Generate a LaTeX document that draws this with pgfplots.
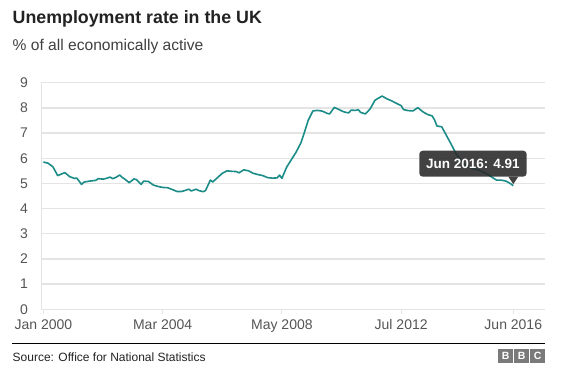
\documentclass[border=0pt]{standalone}
\usepackage{fontspec}
\setmainfont{Liberation Sans}
\usepackage{pgfplots}
\pgfplotsset{compat=1.18}
\definecolor{teal1}{RGB}{27,140,136}
\definecolor{gridc}{RGB}{228,228,228}
\definecolor{tickc}{RGB}{85,85,85}
\definecolor{titlec}{RGB}{34,34,34}
\definecolor{subc}{RGB}{64,64,64}
\definecolor{tipc}{RGB}{40,40,40}
\definecolor{bbcc}{RGB}{122,122,122}
\begin{document}
\begin{tikzpicture}[x=1bp,y=1bp]
\useasboundingbox (0,0) rectangle (586,373);
\node[anchor=base west, inner sep=0pt, text=titlec] at (12.5,349.7) {\fontsize{17.8bp}{20bp}\selectfont\bfseries Unemployment rate in the UK};
\node[anchor=base west, inner sep=0pt, text=subc] at (12.5,323) {\fontsize{15.6bp}{18bp}\selectfont \% of all economically active};
\begin{axis}[
  at={(41bp,63.7bp)}, anchor=south west,
  scale only axis, width=504bp, height=226.6bp,
  xmin=-1, xmax=210.3, ymin=0, ymax=9,
  ytick={0,1,2,3,4,5,6,7,8,9},
  xtick={0,50,100,150,197},
  xticklabels={Jan 2000,Mar 2004,May 2008,Jul 2012,Jun 2016},
  ymajorgrids, grid style={gridc, line width=1.3bp},
  axis x line*=bottom, axis y line*=left,
  axis line style={gridc, line width=1bp},
  x axis line style={-}, y axis line style={-, line width=0.6bp},
  tick align=outside,
  xtick style={gridc, line width=1bp},
  major tick length=5bp,
  ytick style={draw=none},
  /pgf/number format/assume math mode=true,
  ticklabel style={font=\fontsize{14bp}{16bp}\selectfont, text=tickc},
  yticklabel style={inner sep=0pt, xshift=-8bp},
  xticklabel style={inner sep=0pt, yshift=-5bp},
  clip=false,
]
\addplot[teal1, line width=1.6bp, line join=round] coordinates {
(0,5.85)(2,5.80)(4,5.66)(6,5.31)(7,5.35)(9,5.43)(11,5.27)(13,5.20)(14,5.21)(16,4.96)
(17,5.05)(18,5.07)(20,5.10)(22,5.12)(23,5.19)(25,5.17)(26,5.19)(28,5.25)(29,5.19)(30,5.22)
(32,5.33)(33,5.24)(34,5.18)(36,5.03)(38,5.18)(39,5.15)(41,4.96)(42,5.09)(44,5.08)(46,4.94)
(48,4.88)(50,4.84)(52,4.83)(54,4.76)(56,4.68)(58,4.68)(60,4.74)(61,4.77)(62,4.70)(64,4.77)
(65,4.72)(67,4.67)(68,4.72)(70,5.13)(71,5.06)(73,5.23)(75,5.40)(77,5.50)(79,5.48)(81,5.47)
(82,5.42)(84,5.54)(86,5.50)(88,5.40)(90,5.35)(92,5.31)(94,5.23)(96,5.21)(98,5.22)(99,5.33)
(100,5.20)(102,5.65)(104,5.95)(106,6.25)(108,6.62)(109,6.90)(110,7.20)(111,7.50)(113,7.88)(115,7.90)
(117,7.87)(119,7.78)(120,7.76)(122,8.02)(124,7.93)(126,7.84)(128,7.80)(129,7.91)(131,7.90)(132,7.93)
(133,7.82)(135,7.76)(137,7.96)(139,8.30)(140,8.36)(142,8.47)(144,8.36)(146,8.28)(148,8.18)(150,8.09)
(151,7.93)(153,7.89)(155,7.88)(157,8.01)(159,7.85)(161,7.74)(163,7.68)(164,7.52)(165,7.28)(167,7.25)
(169,6.90)(171,6.55)(173,6.18)(175,5.92)(176,5.80)(178,5.66)(180,5.58)(182,5.55)(184,5.47)(186,5.37)
(188,5.25)(190,5.13)(192,5.13)(194,5.09)(196,4.98)(197,4.91)
};
\coordinate (tip) at (axis cs:197,4.91);
\end{axis}
\begin{scope}[shift={(tip)}]
\fill[tipc, opacity=0.88, rounded corners=3.5bp] (-94,9) rectangle (13.4,35);
\fill[tipc, opacity=0.88] (-5,9) -- (0,1.5) -- (5,9) -- cycle;
\node[text=white, inner sep=0pt] at (-40.3,22) {\fontsize{13.5bp}{15bp}\selectfont\bfseries Jun 2016: 4.91};
\end{scope}
\draw[black, line width=1bp] (12,29.7) -- (545,29.7);
\node[anchor=base west, inner sep=0pt, text=titlec] at (12.5,11.8) {\fontsize{12bp}{14bp}\selectfont Source: Office for National Statistics};
\foreach \i/\l in {0/B,1/B,2/C}{
  \fill[bbcc] (498.3+\i*16,10.3) rectangle (512.8+\i*16,23.7);
  \node[text=white, inner sep=0pt] at (505.55+\i*16,17) {\fontsize{10.5bp}{12bp}\selectfont\bfseries \l};
}
\end{tikzpicture}
\end{document}
